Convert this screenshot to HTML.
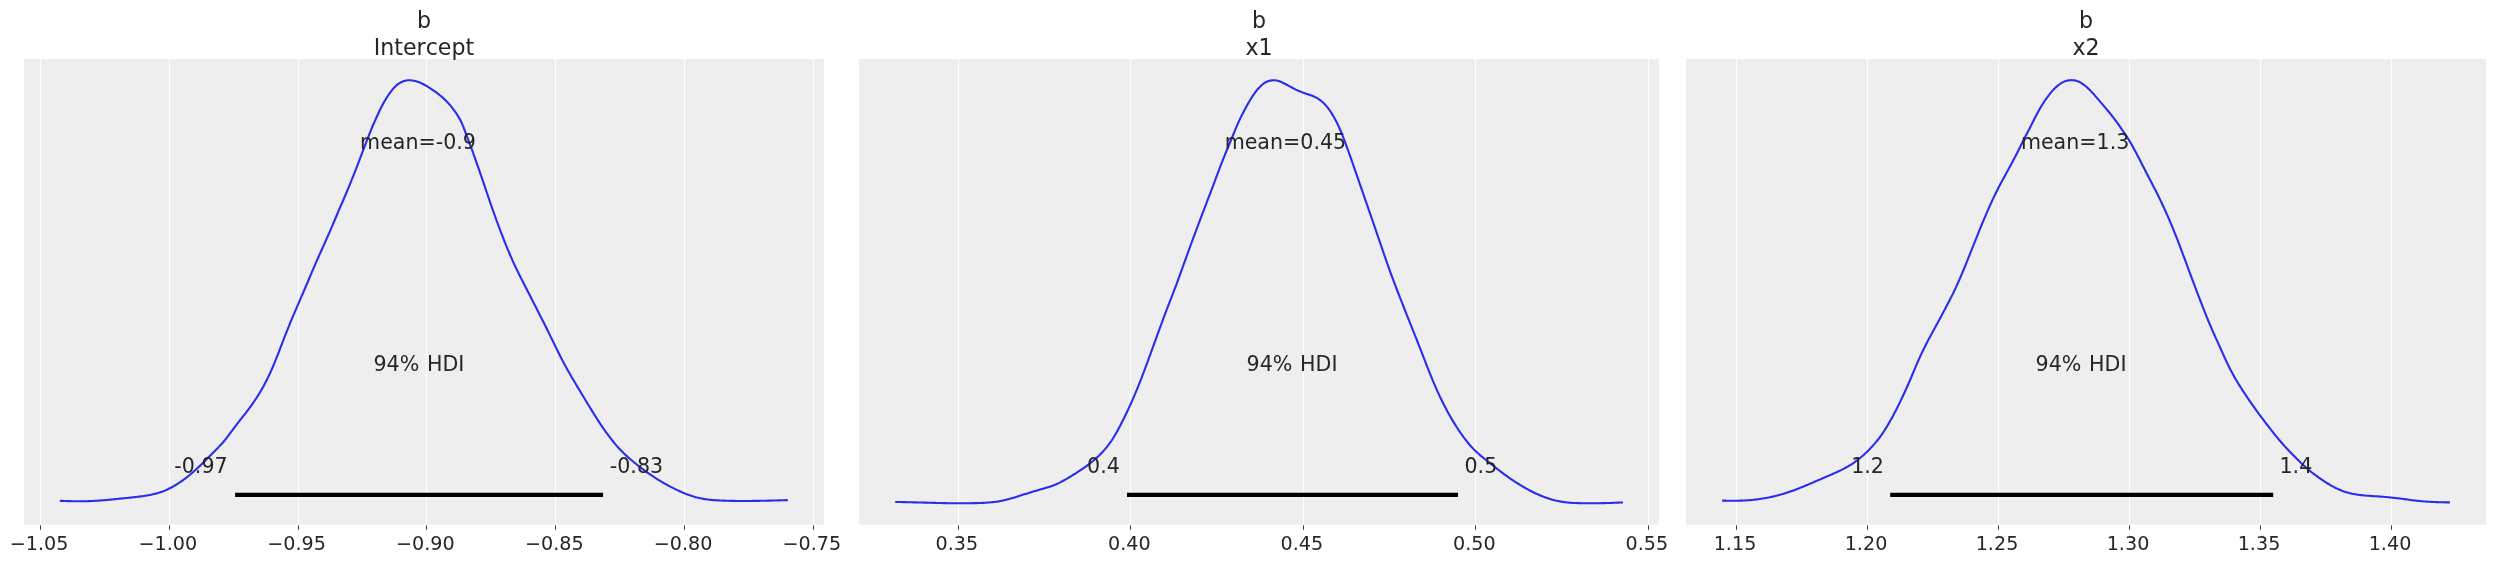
<!DOCTYPE html>
<html lang="en">
<head>
<meta charset="utf-8">
<title>Posterior plot</title>
<style>
  html, body { margin: 0; padding: 0; background: #ffffff; }
  body { width: 2495px; height: 563px; overflow: hidden; }
  svg { display: block; will-change: transform; }
  text { font-kerning: none; }
</style>
</head>
<body>
<svg width="2495" height="563" viewBox="0 0 2495 563" font-family='"DejaVu Sans", "Liberation Sans", sans-serif' fill="#262626">
<rect x="0" y="0" width="2495" height="563" fill="#ffffff"/>
<g>
<rect x="24.0" y="59.0" width="800.0" height="465.70000000000005" fill="#eeeeee"/>
<line x1="40.5" y1="59.0" x2="40.5" y2="524.7" stroke="#ffffff" stroke-width="1.1"/>
<line x1="169.5" y1="59.0" x2="169.5" y2="524.7" stroke="#ffffff" stroke-width="1.1"/>
<line x1="298.5" y1="59.0" x2="298.5" y2="524.7" stroke="#ffffff" stroke-width="1.1"/>
<line x1="426.5" y1="59.0" x2="426.5" y2="524.7" stroke="#ffffff" stroke-width="1.1"/>
<line x1="555.5" y1="59.0" x2="555.5" y2="524.7" stroke="#ffffff" stroke-width="1.1"/>
<line x1="684.5" y1="59.0" x2="684.5" y2="524.7" stroke="#ffffff" stroke-width="1.1"/>
<line x1="813.5" y1="59.0" x2="813.5" y2="524.7" stroke="#ffffff" stroke-width="1.1"/>
<line x1="40.5" y1="525.3000000000001" x2="40.5" y2="529.8000000000001" stroke="#3a3a3a" stroke-width="1"/>
<text x="39.0" y="550.2" font-size="19.15" text-anchor="middle">−1.05</text>
<line x1="169.5" y1="525.3000000000001" x2="169.5" y2="529.8000000000001" stroke="#3a3a3a" stroke-width="1"/>
<text x="167.8" y="550.2" font-size="19.15" text-anchor="middle">−1.00</text>
<line x1="298.5" y1="525.3000000000001" x2="298.5" y2="529.8000000000001" stroke="#3a3a3a" stroke-width="1"/>
<text x="296.6" y="550.2" font-size="19.15" text-anchor="middle">−0.95</text>
<line x1="426.5" y1="525.3000000000001" x2="426.5" y2="529.8000000000001" stroke="#3a3a3a" stroke-width="1"/>
<text x="425.4" y="550.2" font-size="19.15" text-anchor="middle">−0.90</text>
<line x1="555.5" y1="525.3000000000001" x2="555.5" y2="529.8000000000001" stroke="#3a3a3a" stroke-width="1"/>
<text x="554.3" y="550.2" font-size="19.15" text-anchor="middle">−0.85</text>
<line x1="684.5" y1="525.3000000000001" x2="684.5" y2="529.8000000000001" stroke="#3a3a3a" stroke-width="1"/>
<text x="683.1" y="550.2" font-size="19.15" text-anchor="middle">−0.80</text>
<line x1="813.5" y1="525.3000000000001" x2="813.5" y2="529.8000000000001" stroke="#3a3a3a" stroke-width="1"/>
<text x="811.9" y="550.2" font-size="19.15" text-anchor="middle">−0.75</text>
<path d="M59.8,500.78 L61.3,500.85 L62.8,500.92 L64.3,500.99 L65.8,501.04 L67.3,501.09 L68.8,501.13 L70.3,501.17 L71.8,501.20 L73.3,501.23 L74.8,501.25 L76.3,501.26 L77.8,501.27 L79.3,501.27 L80.8,501.27 L82.3,501.27 L83.8,501.25 L85.3,501.23 L86.8,501.20 L88.3,501.16 L89.8,501.11 L91.3,501.04 L92.8,500.97 L94.3,500.89 L95.8,500.81 L97.3,500.71 L98.8,500.61 L100.3,500.51 L101.8,500.40 L103.3,500.28 L104.8,500.15 L106.3,500.02 L107.8,499.89 L109.3,499.74 L110.8,499.59 L112.3,499.44 L113.8,499.28 L115.3,499.13 L116.8,498.97 L118.3,498.82 L119.8,498.66 L121.3,498.51 L122.8,498.36 L124.3,498.22 L125.8,498.07 L127.3,497.92 L128.8,497.78 L130.3,497.63 L131.8,497.47 L133.3,497.31 L134.8,497.15 L136.3,496.98 L137.8,496.80 L139.3,496.61 L140.8,496.41 L142.3,496.20 L143.8,495.98 L145.3,495.75 L146.8,495.50 L148.3,495.24 L149.8,494.96 L151.3,494.66 L152.8,494.34 L154.3,493.99 L155.8,493.61 L157.3,493.20 L158.8,492.76 L160.3,492.29 L161.8,491.77 L163.3,491.21 L164.8,490.61 L166.3,489.97 L167.8,489.28 L169.3,488.54 L170.8,487.77 L172.3,486.96 L173.8,486.11 L175.3,485.23 L176.8,484.31 L178.3,483.36 L179.8,482.37 L181.3,481.35 L182.8,480.29 L184.3,479.20 L185.8,478.08 L187.3,476.92 L188.8,475.73 L190.3,474.50 L191.8,473.23 L193.3,471.93 L194.8,470.59 L196.3,469.22 L197.8,467.81 L199.3,466.37 L200.8,464.91 L202.3,463.43 L203.8,461.94 L205.3,460.44 L206.8,458.93 L208.3,457.42 L209.8,455.92 L211.3,454.42 L212.8,452.92 L214.3,451.42 L215.8,449.92 L217.3,448.41 L218.8,446.88 L220.3,445.31 L221.8,443.69 L223.3,441.99 L224.8,440.21 L226.3,438.34 L227.8,436.40 L229.3,434.39 L230.8,432.35 L232.3,430.30 L233.8,428.28 L235.3,426.28 L236.8,424.32 L238.3,422.40 L239.8,420.50 L241.3,418.61 L242.8,416.71 L244.3,414.80 L245.8,412.87 L247.3,410.91 L248.8,408.91 L250.3,406.88 L251.8,404.79 L253.3,402.66 L254.8,400.47 L256.3,398.21 L257.8,395.88 L259.3,393.46 L260.8,390.96 L262.3,388.36 L263.8,385.66 L265.3,382.85 L266.8,379.92 L268.3,376.87 L269.8,373.70 L271.3,370.40 L272.8,366.96 L274.3,363.40 L275.8,359.72 L277.3,355.94 L278.8,352.07 L280.3,348.15 L281.8,344.21 L283.3,340.28 L284.8,336.39 L286.3,332.56 L287.8,328.79 L289.3,325.09 L290.8,321.45 L292.3,317.86 L293.8,314.32 L295.3,310.81 L296.8,307.33 L298.3,303.86 L299.8,300.40 L301.3,296.94 L302.8,293.48 L304.3,290.00 L305.8,286.51 L307.3,283.00 L308.8,279.47 L310.3,275.94 L311.8,272.41 L313.3,268.90 L314.8,265.41 L316.3,261.95 L317.8,258.53 L319.3,255.15 L320.8,251.79 L322.3,248.46 L323.8,245.12 L325.3,241.77 L326.8,238.40 L328.3,234.99 L329.8,231.55 L331.3,228.06 L332.8,224.56 L334.3,221.03 L335.8,217.50 L337.3,213.97 L338.8,210.46 L340.3,206.96 L341.8,203.48 L343.3,199.99 L344.8,196.50 L346.3,192.98 L347.8,189.42 L349.3,185.82 L350.8,182.15 L352.3,178.43 L353.8,174.65 L355.3,170.82 L356.8,166.95 L358.3,163.04 L359.8,159.11 L361.3,155.17 L362.8,151.23 L364.3,147.30 L365.8,143.38 L367.3,139.48 L368.8,135.59 L370.3,131.78 L371.8,128.08 L373.3,124.51 L374.8,121.06 L376.3,117.72 L377.8,114.46 L379.3,111.29 L380.8,108.22 L382.3,105.28 L383.8,102.52 L385.3,99.94 L386.8,97.52 L388.3,95.22 L389.8,93.05 L391.3,91.01 L392.8,89.15 L394.3,87.48 L395.8,86.00 L397.3,84.72 L398.8,83.62 L400.3,82.70 L401.8,81.94 L403.3,81.33 L404.8,80.87 L406.3,80.53 L407.8,80.32 L409.3,80.24 L410.8,80.29 L412.3,80.45 L413.8,80.70 L415.3,81.04 L416.8,81.46 L418.3,81.97 L419.8,82.57 L421.3,83.24 L422.8,83.97 L424.3,84.73 L425.8,85.54 L427.3,86.41 L428.8,87.33 L430.3,88.29 L431.8,89.28 L433.3,90.30 L434.8,91.34 L436.3,92.42 L437.8,93.55 L439.3,94.73 L440.8,95.97 L442.3,97.27 L443.8,98.64 L445.3,100.09 L446.8,101.62 L448.3,103.21 L449.8,104.89 L451.3,106.67 L452.8,108.56 L454.3,110.57 L455.8,112.70 L457.3,114.95 L458.8,117.36 L460.3,120.00 L461.8,123.06 L463.3,126.65 L464.8,130.67 L466.3,134.67 L467.8,138.57 L469.3,142.55 L470.8,146.62 L472.3,150.73 L473.8,154.88 L475.3,159.08 L476.8,163.33 L478.3,167.61 L479.8,171.94 L481.3,176.30 L482.8,180.70 L484.3,185.12 L485.8,189.56 L487.3,194.00 L488.8,198.44 L490.3,202.84 L491.8,207.20 L493.3,211.49 L494.8,215.71 L496.3,219.84 L497.8,223.90 L499.3,227.89 L500.8,231.82 L502.3,235.70 L503.8,239.53 L505.3,243.30 L506.8,247.02 L508.3,250.66 L509.8,254.23 L511.3,257.70 L512.8,261.07 L514.3,264.35 L515.8,267.54 L517.3,270.64 L518.8,273.69 L520.3,276.69 L521.8,279.65 L523.3,282.60 L524.8,285.54 L526.3,288.47 L527.8,291.40 L529.3,294.34 L530.8,297.27 L532.3,300.21 L533.8,303.15 L535.3,306.09 L536.8,309.03 L538.3,311.97 L539.8,314.92 L541.3,317.88 L542.8,320.84 L544.3,323.82 L545.8,326.81 L547.3,329.82 L548.8,332.85 L550.3,335.91 L551.8,338.98 L553.3,342.06 L554.8,345.15 L556.3,348.22 L557.8,351.27 L559.3,354.28 L560.8,357.24 L562.3,360.14 L563.8,362.99 L565.3,365.77 L566.8,368.50 L568.3,371.18 L569.8,373.82 L571.3,376.43 L572.8,379.00 L574.3,381.55 L575.8,384.08 L577.3,386.59 L578.8,389.08 L580.3,391.57 L581.8,394.05 L583.3,396.53 L584.8,399.00 L586.3,401.48 L587.8,403.96 L589.3,406.43 L590.8,408.90 L592.3,411.35 L593.8,413.78 L595.3,416.18 L596.8,418.55 L598.3,420.88 L599.8,423.16 L601.3,425.40 L602.8,427.60 L604.3,429.75 L605.8,431.86 L607.3,433.93 L608.8,435.95 L610.3,437.93 L611.8,439.87 L613.3,441.75 L614.8,443.59 L616.3,445.36 L617.8,447.08 L619.3,448.73 L620.8,450.32 L622.3,451.85 L623.8,453.32 L625.3,454.74 L626.8,456.12 L628.3,457.46 L629.8,458.76 L631.3,460.05 L632.8,461.31 L634.3,462.55 L635.8,463.77 L637.3,464.97 L638.8,466.15 L640.3,467.31 L641.8,468.45 L643.3,469.57 L644.8,470.67 L646.3,471.75 L647.8,472.81 L649.3,473.85 L650.8,474.88 L652.3,475.89 L653.8,476.88 L655.3,477.86 L656.8,478.82 L658.3,479.77 L659.8,480.69 L661.3,481.60 L662.8,482.49 L664.3,483.36 L665.8,484.21 L667.3,485.04 L668.8,485.85 L670.3,486.64 L671.8,487.41 L673.3,488.17 L674.8,488.91 L676.3,489.64 L677.8,490.35 L679.3,491.04 L680.8,491.71 L682.3,492.36 L683.8,493.00 L685.3,493.62 L686.8,494.21 L688.3,494.78 L689.8,495.32 L691.3,495.84 L692.8,496.33 L694.3,496.78 L695.8,497.21 L697.3,497.60 L698.8,497.96 L700.3,498.29 L701.8,498.59 L703.3,498.86 L704.8,499.11 L706.3,499.33 L707.8,499.52 L709.3,499.70 L710.8,499.85 L712.3,500.00 L713.8,500.12 L715.3,500.23 L716.8,500.33 L718.3,500.42 L719.8,500.49 L721.3,500.56 L722.8,500.62 L724.3,500.67 L725.8,500.72 L727.3,500.76 L728.8,500.80 L730.3,500.83 L731.8,500.86 L733.3,500.89 L734.8,500.91 L736.3,500.93 L737.8,500.95 L739.3,500.96 L740.8,500.97 L742.3,500.98 L743.8,500.98 L745.3,500.97 L746.8,500.97 L748.3,500.96 L749.8,500.94 L751.3,500.93 L752.8,500.91 L754.3,500.89 L755.8,500.87 L757.3,500.85 L758.8,500.83 L760.3,500.80 L761.8,500.78 L763.3,500.75 L764.8,500.72 L766.3,500.69 L767.8,500.66 L769.3,500.63 L770.8,500.60 L772.3,500.56 L773.8,500.52 L775.3,500.48 L776.8,500.44 L778.3,500.40 L779.8,500.36 L781.3,500.31 L782.8,500.27 L784.3,500.22 L785.8,500.17 L787.3,500.11 L787.8,500.10" fill="none" stroke="#2a2eec" stroke-width="2.1" stroke-linejoin="round" stroke-linecap="butt"/>
<line x1="235.1" y1="494.85" x2="603.1" y2="494.85" stroke="#000000" stroke-width="4.3"/>
<text x="418.0" y="148.7" font-size="20.6" text-anchor="middle">mean=-0.9</text>
<text x="418.9" y="371.2" font-size="20.6" text-anchor="middle" word-spacing="1.2">94% HDI</text>
<text x="227.6" y="473.0" font-size="20.6" text-anchor="end">-0.97</text>
<text x="609.8" y="473.0" font-size="20.6" text-anchor="start">-0.83</text>
<text x="424.0" y="28.1" font-size="22.1" text-anchor="middle">b</text>
<text x="424.0" y="54.7" font-size="22.1" text-anchor="middle">Intercept</text>
</g>
<g>
<rect x="859.0" y="59.0" width="800.0" height="465.70000000000005" fill="#eeeeee"/>
<line x1="958.5" y1="59.0" x2="958.5" y2="524.7" stroke="#ffffff" stroke-width="1.1"/>
<line x1="1130.5" y1="59.0" x2="1130.5" y2="524.7" stroke="#ffffff" stroke-width="1.1"/>
<line x1="1303.5" y1="59.0" x2="1303.5" y2="524.7" stroke="#ffffff" stroke-width="1.1"/>
<line x1="1475.5" y1="59.0" x2="1475.5" y2="524.7" stroke="#ffffff" stroke-width="1.1"/>
<line x1="1648.5" y1="59.0" x2="1648.5" y2="524.7" stroke="#ffffff" stroke-width="1.1"/>
<line x1="958.5" y1="525.3000000000001" x2="958.5" y2="529.8000000000001" stroke="#3a3a3a" stroke-width="1"/>
<text x="956.8" y="550.2" font-size="19.15" text-anchor="middle">0.35</text>
<line x1="1130.5" y1="525.3000000000001" x2="1130.5" y2="529.8000000000001" stroke="#3a3a3a" stroke-width="1"/>
<text x="1129.3" y="550.2" font-size="19.15" text-anchor="middle">0.40</text>
<line x1="1303.5" y1="525.3000000000001" x2="1303.5" y2="529.8000000000001" stroke="#3a3a3a" stroke-width="1"/>
<text x="1301.8" y="550.2" font-size="19.15" text-anchor="middle">0.45</text>
<line x1="1475.5" y1="525.3000000000001" x2="1475.5" y2="529.8000000000001" stroke="#3a3a3a" stroke-width="1"/>
<text x="1474.3" y="550.2" font-size="19.15" text-anchor="middle">0.50</text>
<line x1="1648.5" y1="525.3000000000001" x2="1648.5" y2="529.8000000000001" stroke="#3a3a3a" stroke-width="1"/>
<text x="1646.8" y="550.2" font-size="19.15" text-anchor="middle">0.55</text>
<path d="M895.3,501.90 L896.8,501.94 L898.3,501.98 L899.8,502.01 L901.3,502.05 L902.8,502.09 L904.3,502.13 L905.8,502.16 L907.3,502.20 L908.8,502.24 L910.3,502.27 L911.8,502.31 L913.3,502.35 L914.8,502.38 L916.3,502.42 L917.8,502.45 L919.3,502.49 L920.8,502.52 L922.3,502.56 L923.8,502.60 L925.3,502.63 L926.8,502.67 L928.3,502.71 L929.8,502.75 L931.3,502.79 L932.8,502.83 L934.3,502.87 L935.8,502.91 L937.3,502.95 L938.8,502.99 L940.3,503.03 L941.8,503.07 L943.3,503.10 L944.8,503.14 L946.3,503.17 L947.8,503.19 L949.3,503.22 L950.8,503.24 L952.3,503.25 L953.8,503.27 L955.3,503.28 L956.8,503.28 L958.3,503.28 L959.8,503.28 L961.3,503.28 L962.8,503.27 L964.3,503.26 L965.8,503.25 L967.3,503.24 L968.8,503.22 L970.3,503.20 L971.8,503.18 L973.3,503.16 L974.8,503.14 L976.3,503.10 L977.8,503.07 L979.3,503.03 L980.8,502.97 L982.3,502.91 L983.8,502.84 L985.3,502.76 L986.8,502.67 L988.3,502.56 L989.8,502.44 L991.3,502.31 L992.8,502.16 L994.3,501.99 L995.8,501.80 L997.3,501.59 L998.8,501.35 L1000.3,501.07 L1001.8,500.77 L1003.3,500.45 L1004.8,500.10 L1006.3,499.72 L1007.8,499.34 L1009.3,498.93 L1010.8,498.52 L1012.3,498.09 L1013.8,497.65 L1015.3,497.20 L1016.8,496.74 L1018.3,496.27 L1019.8,495.80 L1021.3,495.32 L1022.8,494.85 L1024.3,494.37 L1025.8,493.89 L1027.3,493.42 L1028.8,492.95 L1030.3,492.48 L1031.8,492.01 L1033.3,491.55 L1034.8,491.09 L1036.3,490.64 L1037.8,490.19 L1039.3,489.75 L1040.8,489.32 L1042.3,488.89 L1043.8,488.47 L1045.3,488.04 L1046.8,487.61 L1048.3,487.16 L1049.8,486.69 L1051.3,486.19 L1052.8,485.66 L1054.3,485.08 L1055.8,484.46 L1057.3,483.79 L1058.8,483.08 L1060.3,482.33 L1061.8,481.55 L1063.3,480.74 L1064.8,479.90 L1066.3,479.04 L1067.8,478.16 L1069.3,477.27 L1070.8,476.36 L1072.3,475.44 L1073.8,474.50 L1075.3,473.56 L1076.8,472.60 L1078.3,471.63 L1079.8,470.65 L1081.3,469.65 L1082.8,468.64 L1084.3,467.60 L1085.8,466.54 L1087.3,465.45 L1088.8,464.33 L1090.3,463.17 L1091.8,461.98 L1093.3,460.74 L1094.8,459.46 L1096.3,458.13 L1097.8,456.75 L1099.3,455.32 L1100.8,453.82 L1102.3,452.26 L1103.8,450.62 L1105.3,448.91 L1106.8,447.10 L1108.3,445.19 L1109.8,443.17 L1111.3,441.02 L1112.8,438.74 L1114.3,436.32 L1115.8,433.78 L1117.3,431.12 L1118.8,428.35 L1120.3,425.50 L1121.8,422.58 L1123.3,419.59 L1124.8,416.55 L1126.3,413.45 L1127.8,410.29 L1129.3,407.06 L1130.8,403.76 L1132.3,400.39 L1133.8,396.95 L1135.3,393.42 L1136.8,389.82 L1138.3,386.14 L1139.8,382.37 L1141.3,378.53 L1142.8,374.61 L1144.3,370.63 L1145.8,366.59 L1147.3,362.52 L1148.8,358.42 L1150.3,354.31 L1151.8,350.19 L1153.3,346.07 L1154.8,341.95 L1156.3,337.83 L1157.8,333.71 L1159.3,329.59 L1160.8,325.49 L1162.3,321.41 L1163.8,317.37 L1165.3,313.37 L1166.8,309.42 L1168.3,305.51 L1169.8,301.63 L1171.3,297.77 L1172.8,293.90 L1174.3,289.99 L1175.8,286.04 L1177.3,282.03 L1178.8,277.96 L1180.3,273.84 L1181.8,269.68 L1183.3,265.50 L1184.8,261.32 L1186.3,257.15 L1187.8,252.99 L1189.3,248.86 L1190.8,244.76 L1192.3,240.68 L1193.8,236.63 L1195.3,232.59 L1196.8,228.58 L1198.3,224.59 L1199.8,220.61 L1201.3,216.65 L1202.8,212.70 L1204.3,208.77 L1205.8,204.84 L1207.3,200.90 L1208.8,196.97 L1210.3,193.01 L1211.8,189.05 L1213.3,185.06 L1214.8,181.07 L1216.3,177.07 L1217.8,173.09 L1219.3,169.14 L1220.8,165.24 L1222.3,161.40 L1223.8,157.63 L1225.3,153.91 L1226.8,150.24 L1228.3,146.60 L1229.8,143.00 L1231.3,139.41 L1232.8,135.77 L1234.3,132.07 L1235.8,128.40 L1237.3,124.87 L1238.8,121.52 L1240.3,118.36 L1241.8,115.34 L1243.3,112.41 L1244.8,109.55 L1246.3,106.76 L1247.8,104.05 L1249.3,101.43 L1250.8,98.94 L1252.3,96.56 L1253.8,94.31 L1255.3,92.22 L1256.8,90.28 L1258.3,88.51 L1259.8,86.91 L1261.3,85.47 L1262.8,84.20 L1264.3,83.12 L1265.8,82.22 L1267.3,81.51 L1268.8,80.98 L1270.3,80.59 L1271.8,80.35 L1273.3,80.25 L1274.8,80.30 L1276.3,80.49 L1277.8,80.81 L1279.3,81.25 L1280.8,81.81 L1282.3,82.46 L1283.8,83.19 L1285.3,83.96 L1286.8,84.76 L1288.3,85.57 L1289.8,86.38 L1291.3,87.21 L1292.8,88.03 L1294.3,88.83 L1295.8,89.59 L1297.3,90.29 L1298.8,90.94 L1300.3,91.54 L1301.8,92.11 L1303.3,92.66 L1304.8,93.19 L1306.3,93.71 L1307.8,94.22 L1309.3,94.73 L1310.8,95.25 L1312.3,95.81 L1313.8,96.43 L1315.3,97.13 L1316.8,97.91 L1318.3,98.81 L1319.8,99.83 L1321.3,100.99 L1322.8,102.32 L1324.3,103.79 L1325.8,105.41 L1327.3,107.18 L1328.8,109.12 L1330.3,111.26 L1331.8,113.59 L1333.3,116.10 L1334.8,118.76 L1336.3,121.58 L1337.8,124.58 L1339.3,127.78 L1340.8,131.23 L1342.3,134.91 L1343.8,138.79 L1345.3,142.80 L1346.8,146.88 L1348.3,151.00 L1349.8,155.19 L1351.3,159.44 L1352.8,163.73 L1354.3,168.04 L1355.8,172.36 L1357.3,176.68 L1358.8,181.02 L1360.3,185.35 L1361.8,189.69 L1363.3,194.03 L1364.8,198.37 L1366.3,202.70 L1367.8,207.03 L1369.3,211.36 L1370.8,215.69 L1372.3,220.02 L1373.8,224.36 L1375.3,228.71 L1376.8,233.08 L1378.3,237.47 L1379.8,241.86 L1381.3,246.26 L1382.8,250.65 L1384.3,255.02 L1385.8,259.35 L1387.3,263.63 L1388.8,267.86 L1390.3,272.03 L1391.8,276.13 L1393.3,280.18 L1394.8,284.17 L1396.3,288.11 L1397.8,292.00 L1399.3,295.85 L1400.8,299.67 L1402.3,303.47 L1403.8,307.25 L1405.3,311.02 L1406.8,314.79 L1408.3,318.56 L1409.8,322.33 L1411.3,326.10 L1412.8,329.88 L1414.3,333.66 L1415.8,337.45 L1417.3,341.24 L1418.8,345.05 L1420.3,348.87 L1421.8,352.71 L1423.3,356.57 L1424.8,360.43 L1426.3,364.29 L1427.8,368.14 L1429.3,371.95 L1430.8,375.70 L1432.3,379.37 L1433.8,382.96 L1435.3,386.45 L1436.8,389.85 L1438.3,393.15 L1439.8,396.36 L1441.3,399.48 L1442.8,402.52 L1444.3,405.48 L1445.8,408.36 L1447.3,411.16 L1448.8,413.89 L1450.3,416.55 L1451.8,419.13 L1453.3,421.65 L1454.8,424.09 L1456.3,426.48 L1457.8,428.80 L1459.3,431.07 L1460.8,433.27 L1462.3,435.41 L1463.8,437.49 L1465.3,439.49 L1466.8,441.42 L1468.3,443.27 L1469.8,445.04 L1471.3,446.73 L1472.8,448.35 L1474.3,449.88 L1475.8,451.34 L1477.3,452.74 L1478.8,454.07 L1480.3,455.36 L1481.8,456.61 L1483.3,457.84 L1484.8,459.05 L1486.3,460.25 L1487.8,461.45 L1489.3,462.65 L1490.8,463.85 L1492.3,465.04 L1493.8,466.24 L1495.3,467.42 L1496.8,468.60 L1498.3,469.77 L1499.8,470.92 L1501.3,472.06 L1502.8,473.19 L1504.3,474.30 L1505.8,475.39 L1507.3,476.47 L1508.8,477.52 L1510.3,478.56 L1511.8,479.58 L1513.3,480.58 L1514.8,481.57 L1516.3,482.54 L1517.8,483.49 L1519.3,484.43 L1520.8,485.35 L1522.3,486.25 L1523.8,487.14 L1525.3,488.00 L1526.8,488.85 L1528.3,489.67 L1529.8,490.47 L1531.3,491.25 L1532.8,492.01 L1534.3,492.74 L1535.8,493.45 L1537.3,494.13 L1538.8,494.80 L1540.3,495.44 L1541.8,496.05 L1543.3,496.65 L1544.8,497.22 L1546.3,497.76 L1547.8,498.27 L1549.3,498.76 L1550.8,499.22 L1552.3,499.65 L1553.8,500.05 L1555.3,500.43 L1556.8,500.77 L1558.3,501.09 L1559.8,501.38 L1561.3,501.65 L1562.8,501.88 L1564.3,502.10 L1565.8,502.29 L1567.3,502.46 L1568.8,502.61 L1570.3,502.74 L1571.8,502.85 L1573.3,502.94 L1574.8,503.01 L1576.3,503.07 L1577.8,503.12 L1579.3,503.16 L1580.8,503.19 L1582.3,503.21 L1583.8,503.23 L1585.3,503.25 L1586.8,503.26 L1588.3,503.27 L1589.8,503.27 L1591.3,503.28 L1592.8,503.27 L1594.3,503.27 L1595.8,503.26 L1597.3,503.24 L1598.8,503.22 L1600.3,503.19 L1601.8,503.17 L1603.3,503.13 L1604.8,503.10 L1606.3,503.06 L1607.8,503.02 L1609.3,502.97 L1610.8,502.93 L1612.3,502.87 L1613.8,502.82 L1615.3,502.76 L1616.8,502.70 L1618.3,502.63 L1619.8,502.56 L1621.3,502.50 L1622.8,502.43 L1623.0,502.40" fill="none" stroke="#2a2eec" stroke-width="2.1" stroke-linejoin="round" stroke-linecap="butt"/>
<line x1="1127.0" y1="494.85" x2="1458.0" y2="494.85" stroke="#000000" stroke-width="4.3"/>
<text x="1285.4" y="148.7" font-size="20.6" text-anchor="middle">mean=0.45</text>
<text x="1292.0" y="371.2" font-size="20.6" text-anchor="middle" word-spacing="1.2">94% HDI</text>
<text x="1119.8" y="473.0" font-size="20.6" text-anchor="end">0.4</text>
<text x="1464.5" y="473.0" font-size="20.6" text-anchor="start">0.5</text>
<text x="1259.0" y="28.1" font-size="22.1" text-anchor="middle">b</text>
<text x="1259.0" y="54.7" font-size="22.1" text-anchor="middle">x1</text>
</g>
<g>
<rect x="1686.0" y="59.0" width="800.0" height="465.70000000000005" fill="#eeeeee"/>
<line x1="1736.5" y1="59.0" x2="1736.5" y2="524.7" stroke="#ffffff" stroke-width="1.1"/>
<line x1="1867.5" y1="59.0" x2="1867.5" y2="524.7" stroke="#ffffff" stroke-width="1.1"/>
<line x1="1998.5" y1="59.0" x2="1998.5" y2="524.7" stroke="#ffffff" stroke-width="1.1"/>
<line x1="2129.5" y1="59.0" x2="2129.5" y2="524.7" stroke="#ffffff" stroke-width="1.1"/>
<line x1="2260.5" y1="59.0" x2="2260.5" y2="524.7" stroke="#ffffff" stroke-width="1.1"/>
<line x1="2391.5" y1="59.0" x2="2391.5" y2="524.7" stroke="#ffffff" stroke-width="1.1"/>
<line x1="1736.5" y1="525.3000000000001" x2="1736.5" y2="529.8000000000001" stroke="#3a3a3a" stroke-width="1"/>
<text x="1735.0" y="550.2" font-size="19.15" text-anchor="middle">1.15</text>
<line x1="1867.5" y1="525.3000000000001" x2="1867.5" y2="529.8000000000001" stroke="#3a3a3a" stroke-width="1"/>
<text x="1866.0" y="550.2" font-size="19.15" text-anchor="middle">1.20</text>
<line x1="1998.5" y1="525.3000000000001" x2="1998.5" y2="529.8000000000001" stroke="#3a3a3a" stroke-width="1"/>
<text x="1997.0" y="550.2" font-size="19.15" text-anchor="middle">1.25</text>
<line x1="2129.5" y1="525.3000000000001" x2="2129.5" y2="529.8000000000001" stroke="#3a3a3a" stroke-width="1"/>
<text x="2128.0" y="550.2" font-size="19.15" text-anchor="middle">1.30</text>
<line x1="2260.5" y1="525.3000000000001" x2="2260.5" y2="529.8000000000001" stroke="#3a3a3a" stroke-width="1"/>
<text x="2259.0" y="550.2" font-size="19.15" text-anchor="middle">1.35</text>
<line x1="2391.5" y1="525.3000000000001" x2="2391.5" y2="529.8000000000001" stroke="#3a3a3a" stroke-width="1"/>
<text x="2390.0" y="550.2" font-size="19.15" text-anchor="middle">1.40</text>
<path d="M1722.1,500.58 L1723.6,500.62 L1725.1,500.66 L1726.6,500.69 L1728.1,500.72 L1729.6,500.74 L1731.1,500.76 L1732.6,500.76 L1734.1,500.76 L1735.6,500.76 L1737.1,500.74 L1738.6,500.71 L1740.1,500.67 L1741.6,500.62 L1743.1,500.56 L1744.6,500.49 L1746.1,500.41 L1747.6,500.31 L1749.1,500.20 L1750.6,500.08 L1752.1,499.95 L1753.6,499.80 L1755.1,499.63 L1756.6,499.45 L1758.1,499.26 L1759.6,499.05 L1761.1,498.82 L1762.6,498.58 L1764.1,498.33 L1765.6,498.06 L1767.1,497.78 L1768.6,497.49 L1770.1,497.18 L1771.6,496.86 L1773.1,496.52 L1774.6,496.16 L1776.1,495.80 L1777.6,495.41 L1779.1,495.02 L1780.6,494.60 L1782.1,494.17 L1783.6,493.73 L1785.1,493.27 L1786.6,492.80 L1788.1,492.31 L1789.6,491.80 L1791.1,491.28 L1792.6,490.75 L1794.1,490.21 L1795.6,489.65 L1797.1,489.08 L1798.6,488.49 L1800.1,487.89 L1801.6,487.29 L1803.1,486.67 L1804.6,486.05 L1806.1,485.42 L1807.6,484.78 L1809.1,484.14 L1810.6,483.50 L1812.1,482.86 L1813.6,482.21 L1815.1,481.56 L1816.6,480.91 L1818.1,480.26 L1819.6,479.61 L1821.1,478.96 L1822.6,478.31 L1824.1,477.67 L1825.6,477.02 L1827.1,476.38 L1828.6,475.74 L1830.1,475.09 L1831.6,474.44 L1833.1,473.79 L1834.6,473.12 L1836.1,472.44 L1837.6,471.75 L1839.1,471.05 L1840.6,470.32 L1842.1,469.58 L1843.6,468.81 L1845.1,468.02 L1846.6,467.19 L1848.1,466.34 L1849.6,465.45 L1851.1,464.52 L1852.6,463.55 L1854.1,462.54 L1855.6,461.48 L1857.1,460.37 L1858.6,459.22 L1860.1,458.01 L1861.6,456.75 L1863.1,455.43 L1864.6,454.07 L1866.1,452.65 L1867.6,451.18 L1869.1,449.67 L1870.6,448.11 L1872.1,446.52 L1873.6,444.87 L1875.1,443.17 L1876.6,441.39 L1878.1,439.52 L1879.6,437.55 L1881.1,435.48 L1882.6,433.29 L1884.1,431.01 L1885.6,428.64 L1887.1,426.19 L1888.6,423.66 L1890.1,421.06 L1891.6,418.39 L1893.1,415.65 L1894.6,412.83 L1896.1,409.94 L1897.6,406.97 L1899.1,403.94 L1900.6,400.84 L1902.1,397.69 L1903.6,394.47 L1905.1,391.20 L1906.6,387.88 L1908.1,384.49 L1909.6,381.05 L1911.1,377.55 L1912.6,374.01 L1914.1,370.45 L1915.6,366.90 L1917.1,363.40 L1918.6,359.96 L1920.1,356.62 L1921.6,353.38 L1923.1,350.24 L1924.6,347.20 L1926.1,344.25 L1927.6,341.36 L1929.1,338.53 L1930.6,335.74 L1932.1,332.98 L1933.6,330.24 L1935.1,327.49 L1936.6,324.75 L1938.1,321.98 L1939.6,319.21 L1941.1,316.41 L1942.6,313.60 L1944.1,310.78 L1945.6,307.94 L1947.1,305.09 L1948.6,302.22 L1950.1,299.32 L1951.6,296.37 L1953.1,293.36 L1954.6,290.27 L1956.1,287.09 L1957.6,283.81 L1959.1,280.43 L1960.6,276.95 L1962.1,273.39 L1963.6,269.75 L1965.1,266.06 L1966.6,262.32 L1968.1,258.57 L1969.6,254.80 L1971.1,251.04 L1972.6,247.28 L1974.1,243.53 L1975.6,239.79 L1977.1,236.06 L1978.6,232.36 L1980.1,228.68 L1981.6,225.02 L1983.1,221.42 L1984.6,217.85 L1986.1,214.35 L1987.6,210.89 L1989.1,207.50 L1990.6,204.16 L1992.1,200.88 L1993.6,197.67 L1995.1,194.53 L1996.6,191.45 L1998.1,188.46 L1999.6,185.54 L2001.1,182.69 L2002.6,179.90 L2004.1,177.16 L2005.6,174.46 L2007.1,171.76 L2008.6,169.06 L2010.1,166.33 L2011.6,163.56 L2013.1,160.73 L2014.6,157.85 L2016.1,154.91 L2017.6,151.93 L2019.1,148.94 L2020.6,145.93 L2022.1,142.92 L2023.6,139.94 L2025.1,137.03 L2026.6,134.18 L2028.1,131.33 L2029.6,128.44 L2031.1,125.45 L2032.6,122.42 L2034.1,119.44 L2035.6,116.56 L2037.1,113.77 L2038.6,111.02 L2040.1,108.34 L2041.6,105.75 L2043.1,103.31 L2044.6,101.01 L2046.1,98.84 L2047.6,96.77 L2049.1,94.80 L2050.6,92.92 L2052.1,91.14 L2053.6,89.48 L2055.1,87.96 L2056.6,86.60 L2058.1,85.37 L2059.6,84.25 L2061.1,83.24 L2062.6,82.36 L2064.1,81.64 L2065.6,81.07 L2067.1,80.65 L2068.6,80.36 L2070.1,80.18 L2071.6,80.13 L2073.1,80.20 L2074.6,80.39 L2076.1,80.73 L2077.6,81.21 L2079.1,81.84 L2080.6,82.63 L2082.1,83.57 L2083.6,84.63 L2085.1,85.79 L2086.6,87.04 L2088.1,88.39 L2089.6,89.84 L2091.1,91.37 L2092.6,92.98 L2094.1,94.65 L2095.6,96.35 L2097.1,98.08 L2098.6,99.82 L2100.1,101.57 L2101.6,103.34 L2103.1,105.12 L2104.6,106.90 L2106.1,108.68 L2107.6,110.47 L2109.1,112.27 L2110.6,114.11 L2112.1,115.99 L2113.6,117.89 L2115.1,119.83 L2116.6,121.83 L2118.1,123.92 L2119.6,126.10 L2121.1,128.32 L2122.6,130.51 L2124.1,132.69 L2125.6,134.88 L2127.1,137.13 L2128.6,139.49 L2130.1,141.96 L2131.6,144.56 L2133.1,147.25 L2134.6,150.00 L2136.1,152.81 L2137.6,155.67 L2139.1,158.57 L2140.6,161.49 L2142.1,164.42 L2143.6,167.34 L2145.1,170.26 L2146.6,173.16 L2148.1,176.06 L2149.6,178.95 L2151.1,181.85 L2152.6,184.75 L2154.1,187.66 L2155.6,190.60 L2157.1,193.58 L2158.6,196.59 L2160.1,199.65 L2161.6,202.77 L2163.1,205.95 L2164.6,209.19 L2166.1,212.49 L2167.6,215.86 L2169.1,219.31 L2170.6,222.82 L2172.1,226.41 L2173.6,230.07 L2175.1,233.80 L2176.6,237.60 L2178.1,241.46 L2179.6,245.37 L2181.1,249.33 L2182.6,253.33 L2184.1,257.36 L2185.6,261.40 L2187.1,265.46 L2188.6,269.52 L2190.1,273.57 L2191.6,277.61 L2193.1,281.63 L2194.6,285.63 L2196.1,289.60 L2197.6,293.55 L2199.1,297.48 L2200.6,301.37 L2202.1,305.24 L2203.6,309.07 L2205.1,312.85 L2206.6,316.58 L2208.1,320.25 L2209.6,323.85 L2211.1,327.38 L2212.6,330.83 L2214.1,334.22 L2215.6,337.56 L2217.1,340.88 L2218.6,344.19 L2220.1,347.51 L2221.6,350.84 L2223.1,354.16 L2224.6,357.45 L2226.1,360.70 L2227.6,363.87 L2229.1,366.95 L2230.6,369.92 L2232.1,372.77 L2233.6,375.52 L2235.1,378.17 L2236.6,380.72 L2238.1,383.20 L2239.6,385.62 L2241.1,387.99 L2242.6,390.32 L2244.1,392.62 L2245.6,394.88 L2247.1,397.13 L2248.6,399.35 L2250.1,401.54 L2251.6,403.71 L2253.1,405.85 L2254.6,407.97 L2256.1,410.06 L2257.6,412.12 L2259.1,414.15 L2260.6,416.17 L2262.1,418.15 L2263.6,420.13 L2265.1,422.09 L2266.6,424.04 L2268.1,425.99 L2269.6,427.94 L2271.1,429.88 L2272.6,431.81 L2274.1,433.73 L2275.6,435.61 L2277.1,437.46 L2278.6,439.27 L2280.1,441.04 L2281.6,442.77 L2283.1,444.46 L2284.6,446.12 L2286.1,447.74 L2287.6,449.34 L2289.1,450.92 L2290.6,452.48 L2292.1,454.02 L2293.6,455.55 L2295.1,457.06 L2296.6,458.56 L2298.1,460.05 L2299.6,461.52 L2301.1,462.97 L2302.6,464.40 L2304.1,465.80 L2305.6,467.16 L2307.1,468.48 L2308.6,469.77 L2310.1,471.01 L2311.6,472.21 L2313.1,473.38 L2314.6,474.51 L2316.1,475.62 L2317.6,476.71 L2319.1,477.78 L2320.6,478.83 L2322.1,479.86 L2323.6,480.87 L2325.1,481.86 L2326.6,482.83 L2328.1,483.76 L2329.6,484.67 L2331.1,485.54 L2332.6,486.38 L2334.1,487.18 L2335.6,487.94 L2337.1,488.66 L2338.6,489.34 L2340.1,489.98 L2341.6,490.59 L2343.1,491.15 L2344.6,491.67 L2346.1,492.15 L2347.6,492.60 L2349.1,493.01 L2350.6,493.38 L2352.1,493.72 L2353.6,494.02 L2355.1,494.30 L2356.6,494.55 L2358.1,494.77 L2359.6,494.97 L2361.1,495.15 L2362.6,495.31 L2364.1,495.45 L2365.6,495.57 L2367.1,495.69 L2368.6,495.80 L2370.1,495.90 L2371.6,496.00 L2373.1,496.09 L2374.6,496.18 L2376.1,496.28 L2377.6,496.38 L2379.1,496.48 L2380.6,496.58 L2382.1,496.69 L2383.6,496.81 L2385.1,496.93 L2386.6,497.07 L2388.1,497.21 L2389.6,497.35 L2391.1,497.51 L2392.6,497.67 L2394.1,497.84 L2395.6,498.01 L2397.1,498.19 L2398.6,498.38 L2400.1,498.57 L2401.6,498.76 L2403.1,498.96 L2404.6,499.16 L2406.1,499.36 L2407.6,499.57 L2409.1,499.77 L2410.6,499.98 L2412.1,500.18 L2413.6,500.37 L2415.1,500.55 L2416.6,500.72 L2418.1,500.89 L2419.6,501.04 L2421.1,501.18 L2422.6,501.31 L2424.1,501.43 L2425.6,501.54 L2427.1,501.64 L2428.6,501.73 L2430.1,501.82 L2431.6,501.90 L2433.1,501.97 L2434.6,502.04 L2436.1,502.10 L2437.6,502.15 L2439.1,502.19 L2440.6,502.23 L2442.1,502.27 L2443.6,502.30 L2445.1,502.33 L2446.6,502.35 L2448.1,502.37 L2449.6,502.38 L2449.9,502.39" fill="none" stroke="#2a2eec" stroke-width="2.1" stroke-linejoin="round" stroke-linecap="butt"/>
<line x1="1890.2" y1="494.85" x2="2273.2" y2="494.85" stroke="#000000" stroke-width="4.3"/>
<text x="2075.1" y="148.7" font-size="20.6" text-anchor="middle">mean=1.3</text>
<text x="2081.0" y="371.2" font-size="20.6" text-anchor="middle" word-spacing="1.2">94% HDI</text>
<text x="1883.9" y="473.0" font-size="20.6" text-anchor="end">1.2</text>
<text x="2279.5" y="473.0" font-size="20.6" text-anchor="start">1.4</text>
<text x="2086.0" y="28.1" font-size="22.1" text-anchor="middle">b</text>
<text x="2086.0" y="54.7" font-size="22.1" text-anchor="middle">x2</text>
</g>
</svg>
</body>
</html>
